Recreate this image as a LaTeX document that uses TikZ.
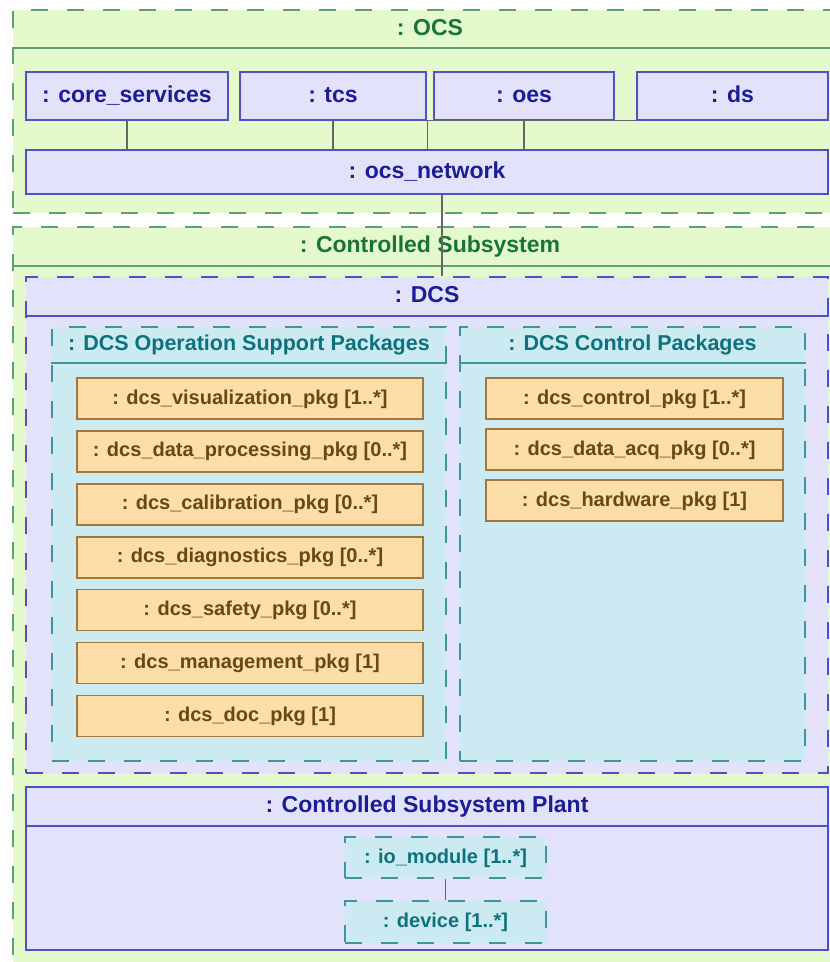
\documentclass[tikz,border=0pt]{standalone}
\usepackage{fontspec}
\setmainfont{Liberation Sans}
\usetikzlibrary{positioning}
\definecolor{ocsgreen}{RGB}{228,250,204}
\definecolor{ocsgreenline}{RGB}{96,160,116}
\definecolor{ocsgreentext}{RGB}{24,116,56}
\definecolor{dcsblue}{RGB}{226,226,250}
\definecolor{dcsblueline}{RGB}{80,80,196}
\definecolor{dcsbluetext}{RGB}{28,28,150}
\definecolor{pkgteal}{RGB}{204,234,242}
\definecolor{pkgtealline}{RGB}{64,150,150}
\definecolor{pkgtealtext}{RGB}{14,114,124}
\definecolor{pkgorange}{RGB}{253,222,168}
\definecolor{pkgorangeline}{RGB}{164,118,62}
\definecolor{pkgorangetext}{RGB}{104,72,20}
\tikzstyle{frame} = [rectangle, inner sep=0pt, line width=1.8pt, dash pattern=on 17pt off 19pt]
\tikzstyle{greenframe} = [frame, draw=ocsgreenline, fill=ocsgreen]
\tikzstyle{blueframe} = [frame, draw=dcsblueline, fill=dcsblue]
\tikzstyle{tealframe} = [frame, draw=pkgtealline, fill=pkgteal]
\tikzstyle{title} = [inner sep=0pt, text height=17pt, text depth=5pt, font=\fontsize{23}{26}\selectfont\bfseries]
\tikzstyle{pkgtitle} = [inner sep=0pt, text height=16pt, text depth=4.5pt, font=\fontsize{21.5}{24}\selectfont\bfseries, text=pkgtealtext]
\tikzstyle{comp} = [rectangle, draw=dcsblueline, fill=dcsblue, line width=1.6pt, text=dcsbluetext, text height=17pt, text depth=5pt, font=\fontsize{23}{26}\selectfont\bfseries]
\tikzstyle{pkg} = [rectangle, draw=pkgorangeline, fill=pkgorange, line width=1.6pt, text=pkgorangetext, minimum height=41pt, text height=15pt, text depth=4pt, font=\fontsize{20}{23}\selectfont\bfseries]
\tikzstyle{part} = [tealframe, minimum width=201pt, minimum height=41pt, text=pkgtealtext, text height=15pt, text depth=4pt, font=\fontsize{20}{23}\selectfont\bfseries]
\tikzstyle{sep} = [line width=1.6pt]
\tikzstyle{link} = [line width=1.1pt, color=black!60]

\begin{document}
\begin{tikzpicture}[x=1pt,y=-1pt]
\clip (0,0) rectangle (830,962);
\fill[white] (0,0) rectangle (830,962);

% OCS
\node[greenframe, minimum width=834pt, minimum height=203pt] (ocs) at (430,111.5) {};
\node[title, text=ocsgreentext, minimum height=38pt] (ocstitle) at (430,29) {: OCS};
\draw[sep, ocsgreenline] (ocstitle.south -| ocs.west) -- (ocstitle.south -| ocs.east);

\node[comp, minimum width=202pt, minimum height=48pt] (core) at (127,96) {: core\_services};
\node[comp, minimum width=186pt, minimum height=48pt] (tcs) at (333,96) {: tcs};
\node[comp, minimum width=180pt, minimum height=48pt] (oes) at (524,96) {: oes};
\node[comp, minimum width=191pt, minimum height=48pt] (ds) at (732.5,96) {: ds};
\node[comp, minimum width=802pt, minimum height=44pt] (net) at (427,172) {: ocs\_network};

% Controlled Subsystem
\node[greenframe, minimum width=834pt, minimum height=753pt] (cs) at (430,603.5) {};
\node[title, text=ocsgreentext, minimum height=39pt] (cstitle) at (430,246.5) {: Controlled Subsystem};
\draw[sep, ocsgreenline] (cstitle.south -| cs.west) -- (cstitle.south -| cs.east);

% DCS
\node[blueframe, minimum width=802pt, minimum height=496pt] (dcs) at (427,525) {};
\node[title, text=dcsbluetext, minimum height=39pt] (dcstitle) at (427,296.5) {: DCS};
\draw[sep, dcsblueline] (dcstitle.south -| dcs.west) -- (dcstitle.south -| dcs.east);

% DCS Operation Support Packages
\node[tealframe, minimum width=394pt, minimum height=434pt] (osp) at (249,544) {};
\node[pkgtitle, minimum height=36pt] (osptitle) at (249,345) {: DCS Operation Support Packages};
\draw[sep, pkgtealline] (osptitle.south -| osp.west) -- (osptitle.south -| osp.east);

\node[pkg, minimum width=346pt] (vis) at (250,398.5) {: dcs\_visualization\_pkg [1..*]};
\node[pkg, minimum width=346pt] (proc) at (250,451.4) {: dcs\_data\_processing\_pkg [0..*]};
\node[pkg, minimum width=346pt] (cal) at (250,504.3) {: dcs\_calibration\_pkg [0..*]};
\node[pkg, minimum width=346pt] (diag) at (250,557.2) {: dcs\_diagnostics\_pkg [0..*]};
\node[pkg, minimum width=346pt] (safe) at (250,610.1) {: dcs\_safety\_pkg [0..*]};
\node[pkg, minimum width=346pt] (mgmt) at (250,663) {: dcs\_management\_pkg [1]};
\node[pkg, minimum width=346pt] (doc) at (250,715.9) {: dcs\_doc\_pkg [1]};

% DCS Control Packages
\node[tealframe, minimum width=345pt, minimum height=434pt] (ctl) at (632.5,544) {};
\node[pkgtitle, minimum height=36pt] (ctltitle) at (632.5,345) {: DCS Control Packages};
\draw[sep, pkgtealline] (ctltitle.south -| ctl.west) -- (ctltitle.south -| ctl.east);

\node[pkg, minimum width=297pt] (control) at (634.5,398.5) {: dcs\_control\_pkg [1..*]};
\node[pkg, minimum width=297pt] (acq) at (634.5,449.5) {: dcs\_data\_acq\_pkg [0..*]};
\node[pkg, minimum width=297pt] (hw) at (634.5,500.5) {: dcs\_hardware\_pkg [1]};

% Controlled Subsystem Plant
\node[rectangle, draw=dcsblueline, fill=dcsblue, line width=1.8pt, minimum width=802pt, minimum height=163pt] (plant) at (427,868.5) {};
\node[title, text=dcsbluetext, minimum height=39pt] (planttitle) at (427,806.5) {: Controlled Subsystem Plant};
\draw[sep, dcsblueline] (planttitle.south -| plant.west) -- (planttitle.south -| plant.east);

\node[part] (io) at (445.5,857.5) {: io\_module [1..*]};
\node[part, minimum height=42pt] (dev) at (445.5,922) {: device [1..*]};

% Connectors
\draw[link] (core.south) -- (core.south |- net.north);
\draw[link] (tcs.south) -- (tcs.south |- net.north);
\draw[link] (oes.south) -- (oes.south |- net.north);
\draw[link] (ds.south west) -| ([xshift=-6pt]oes.south west |- net.north);
\draw[link] ([xshift=15pt]net.south) -- ([xshift=15pt]net.south |- dcs.north);
\draw[link] (io.south) -- (dev.north);
\end{tikzpicture}
\end{document}
